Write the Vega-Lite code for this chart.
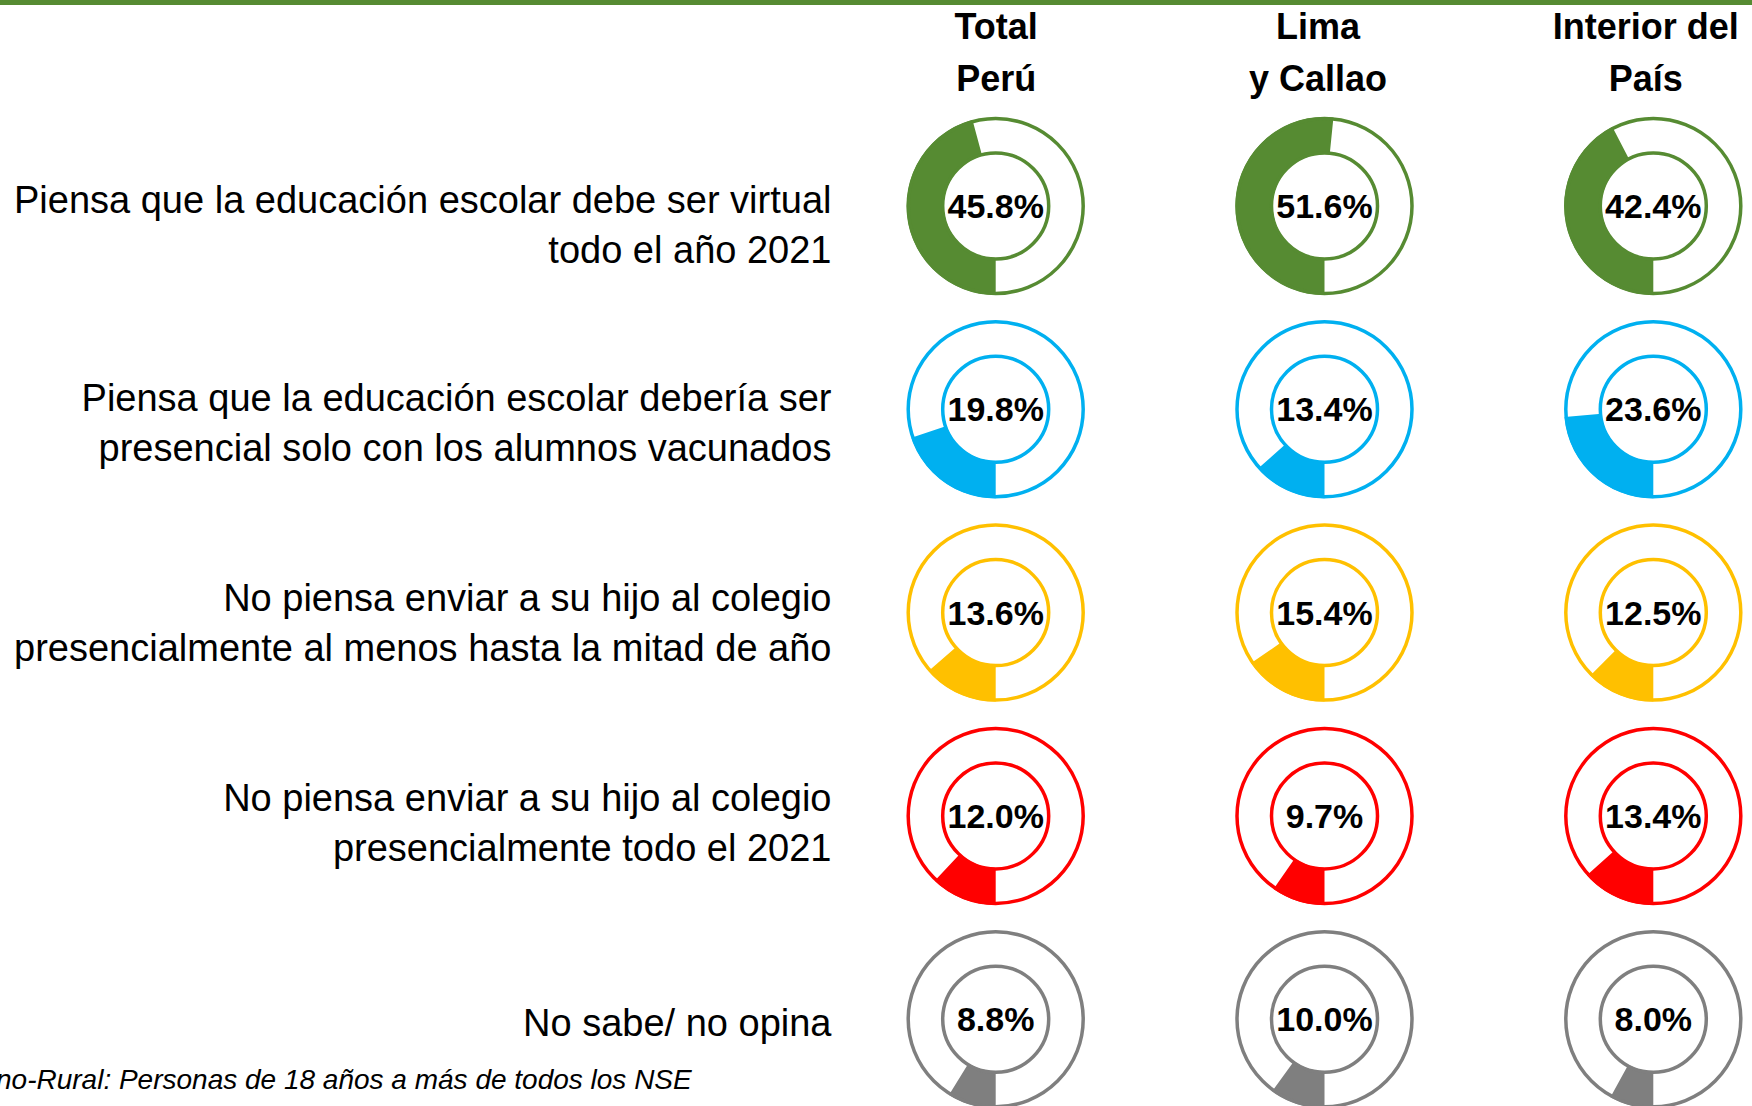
{
  "$schema": "https://vega.github.io/schema/vega-lite/v6.json",
  "width": 1752,
  "height": 1101,
  "autosize": {"type": "none"},
  "padding": {"top": 5, "left": 0, "right": 0, "bottom": 0},
  "background": "#568B32",
  "config": {"view": {"fill": "white", "stroke": null}, "font": "Liberation Sans", "axis": {"grid": false}},
  "title": {
    "text": "no-Rural: Personas de 18 años a más de todos los NSE",
    "orient": "bottom", "anchor": "start", "frame": "group",
    "font": "Liberation Sans", "fontSize": 28, "fontStyle": "italic", "fontWeight": "normal",
    "color": "black", "baseline": "alphabetic", "offset": 0, "dx": -4, "dy": -25
  },
  "data": {"values": [
    {"item": "Piensa que la educación escolar debe ser virtual\ntodo el año 2021", "region": "Total\nPerú", "value": 45.8},
    {"item": "Piensa que la educación escolar debe ser virtual\ntodo el año 2021", "region": "Lima\ny Callao", "value": 51.6},
    {"item": "Piensa que la educación escolar debe ser virtual\ntodo el año 2021", "region": "Interior del\nPaís", "value": 42.4},
    {"item": "Piensa que la educación escolar debería ser\npresencial solo con los alumnos vacunados", "region": "Total\nPerú", "value": 19.8},
    {"item": "Piensa que la educación escolar debería ser\npresencial solo con los alumnos vacunados", "region": "Lima\ny Callao", "value": 13.4},
    {"item": "Piensa que la educación escolar debería ser\npresencial solo con los alumnos vacunados", "region": "Interior del\nPaís", "value": 23.6},
    {"item": "No piensa enviar a su hijo al colegio\npresencialmente al menos hasta la mitad de año", "region": "Total\nPerú", "value": 13.6},
    {"item": "No piensa enviar a su hijo al colegio\npresencialmente al menos hasta la mitad de año", "region": "Lima\ny Callao", "value": 15.4},
    {"item": "No piensa enviar a su hijo al colegio\npresencialmente al menos hasta la mitad de año", "region": "Interior del\nPaís", "value": 12.5},
    {"item": "No piensa enviar a su hijo al colegio\npresencialmente todo el 2021", "region": "Total\nPerú", "value": 12.0},
    {"item": "No piensa enviar a su hijo al colegio\npresencialmente todo el 2021", "region": "Lima\ny Callao", "value": 9.7},
    {"item": "No piensa enviar a su hijo al colegio\npresencialmente todo el 2021", "region": "Interior del\nPaís", "value": 13.4},
    {"item": "No sabe/ no opina", "region": "Total\nPerú", "value": 8.8},
    {"item": "No sabe/ no opina", "region": "Lima\ny Callao", "value": 10.0},
    {"item": "No sabe/ no opina", "region": "Interior del\nPaís", "value": 8.0}
  ]},
  "transform": [{"calculate": "format(datum.value, '.1f') + '%'", "as": "pct"}],
  "encoding": {
    "x": {
      "field": "region", "type": "nominal", "sort": null,
      "scale": {"type": "point", "padding": 0, "range": [995.7, 1653.3]},
      "axis": {
        "orient": "top", "offset": -41.5, "title": null, "domain": false, "ticks": false, "tickSize": 0,
        "labelPadding": 0, "labelFont": "Liberation Sans", "labelFontSize": 36, "labelFontWeight": "bold",
        "labelLineHeight": 52, "labelColor": "black", "labelAngle": 0, "labelLimit": 600,
        "labelOverlap": false, "labelExpr": "split(datum.label, '\\n')",
        "labelOffset": {
          "condition": [
            {"test": "indexof(datum.value, 'Lima') >= 0", "value": -7},
            {"test": "indexof(datum.value, 'Interior') >= 0", "value": -8}
          ],
          "value": 0
        }
      }
    },
    "y": {
      "field": "item", "type": "nominal", "sort": null,
      "scale": {"type": "point", "padding": 0.7078, "align": 0.6984},
      "axis": {
        "orient": "left", "offset": -831, "title": null, "domain": false, "ticks": false, "tickSize": 0,
        "labelPadding": 0, "labelFont": "Liberation Sans", "labelFontSize": 38, "labelLineHeight": 50,
        "labelColor": "black", "labelAlign": "right", "labelLimit": 1500, "labelOverlap": false, "labelBound": false,
        "labelExpr": "split(datum.label, '\\n')",
        "labelOffset": {
          "condition": [
            {"test": "indexof(datum.value, 'virtual') >= 0", "value": -4},
            {"test": "indexof(datum.value, 'vacunados') >= 0", "value": -10},
            {"test": "indexof(datum.value, 'mitad') >= 0", "value": -13},
            {"test": "indexof(datum.value, 'todo el 2021') >= 0", "value": -16}
          ],
          "value": 5
        }
      }
    },
    "color": {
      "field": "item", "type": "nominal", "sort": null, "legend": null,
      "scale": {"range": ["#568B32", "#00B0F0", "#FFC000", "#FF0000", "#7F7F7F"]}
    }
  },
  "layer": [
    {
      "mark": {"type": "arc", "outerRadius": 89, "innerRadius": 52},
      "encoding": {
        "theta": {"field": "value", "type": "quantitative", "stack": false,
          "scale": {"domain": [0, 100], "range": [3.14159265, 9.42477796]}}
      }
    },
    {"mark": {"type": "point", "shape": "circle", "filled": false, "size": 30625, "strokeWidth": 3.5, "opacity": 1}},
    {"mark": {"type": "point", "shape": "circle", "filled": false, "size": 11236, "strokeWidth": 3.5, "opacity": 1}},
    {
      "mark": {"type": "text", "fontSize": 34, "fontWeight": "bold", "font": "Liberation Sans", "baseline": "middle", "dy": 2},
      "encoding": {"text": {"field": "pct"}, "color": {"value": "black"}}
    }
  ]
}
